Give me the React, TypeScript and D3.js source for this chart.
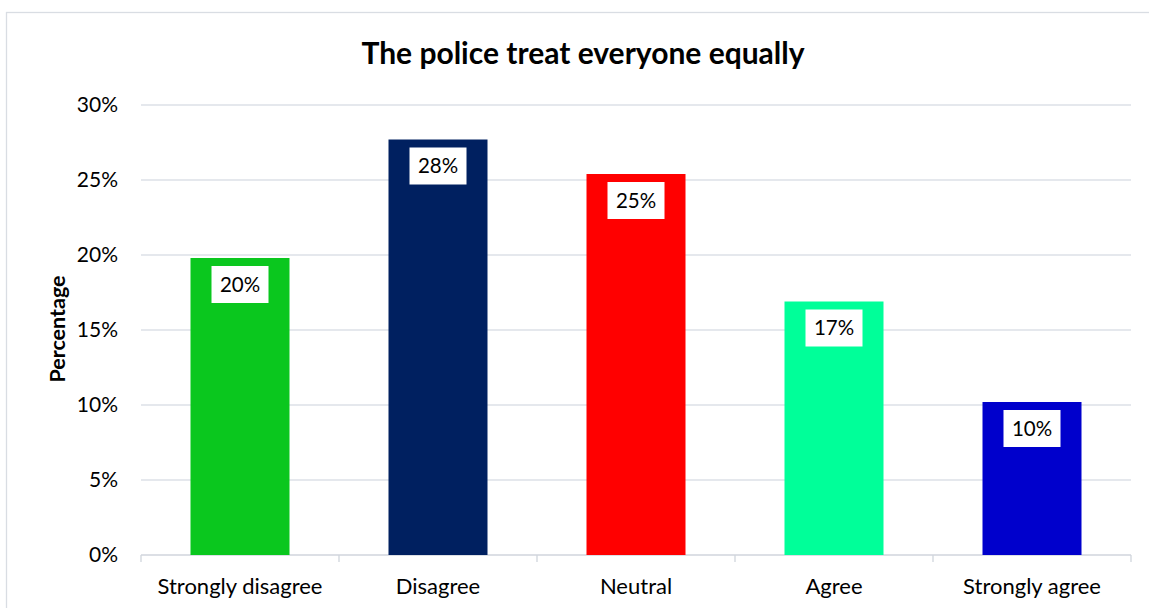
import React from "react";
import * as d3 from "d3";

const categories = ["Strongly disagree", "Disagree", "Neutral", "Agree", "Strongly agree"];
const values = [19.8, 27.7, 25.4, 16.9, 10.2];
const labels = ["20%", "28%", "25%", "17%", "10%"];
const colors = ["#0AC71E", "#002060", "#FF0000", "#00FF99", "#0000CC"];
const yTicks = [0, 5, 10, 15, 20, 25, 30];

const W = 1149;
const H = 608;
const FONT = "Lato, 'Open Sans', sans-serif";

export default function App() {
  const x = d3.scaleBand<string>().domain(categories).range([141, 1131]).paddingInner(0).paddingOuter(0);
  const y = d3.scaleLinear().domain([0, 30]).range([555, 105]);
  const bw = x.bandwidth() * 0.5;

  return (
    <svg width={W} height={H} style={{ position: "absolute", left: 0, top: 0, display: "block", background: "#fff" }}>
      <rect x={6.5} y={12.5} width={1160} height={620} fill="#fff" stroke="#D9DDE3" strokeWidth={1.3} />
      <text x={583} y={64} textAnchor="middle" fontFamily={FONT} fontWeight="bold" fontSize={30} fill="#000">
        The police treat everyone equally
      </text>
      {yTicks.map((t) => (
        <g key={t}>
          {t > 0 && <line x1={141} x2={1131} y1={y(t)} y2={y(t)} stroke="#DDE1E7" strokeWidth={1.3} />}
          <text x={118} y={y(t)} dy="0.35em" textAnchor="end" fontFamily={FONT} fontSize={21} fill="#000">
            {t}%
          </text>
        </g>
      ))}
      <line x1={141} x2={1131} y1={y(0)} y2={y(0)} stroke="#D0D5DC" strokeWidth={1.3} />
      {[...categories.map((c) => x(c) as number), 1131].map((px, i) => (
        <line key={i} x1={px} x2={px} y1={y(0)} y2={y(0) + 7} stroke="#D0D5DC" strokeWidth={1.3} />
      ))}
      {categories.map((c, i) => {
        const bx = (x(c) as number) + (x.bandwidth() - bw) / 2;
        const cx = (x(c) as number) + x.bandwidth() / 2;
        const top = y(values[i]);
        return (
          <g key={c}>
            <rect x={bx} y={top} width={bw} height={y(0) - top} fill={colors[i]} />
            <rect x={cx - 28.5} y={top + 8} width={57} height={37} fill="#fff" />
            <text x={cx} y={top + 26.5} dy="0.35em" textAnchor="middle" fontFamily={FONT} fontSize={20.5} fill="#000">
              {labels[i]}
            </text>
            <text x={cx} y={586} dy="0.35em" textAnchor="middle" fontFamily={FONT} fontSize={22} fill="#000">
              {c}
            </text>
          </g>
        );
      })}
      <text
        transform={`translate(57,329) rotate(-90)`}
        textAnchor="middle"
        dy="0.35em"
        fontFamily={FONT}
        fontWeight="bold"
        fontSize={21.5}
        fill="#000"
      >
        Percentage
      </text>
    </svg>
  );
}
